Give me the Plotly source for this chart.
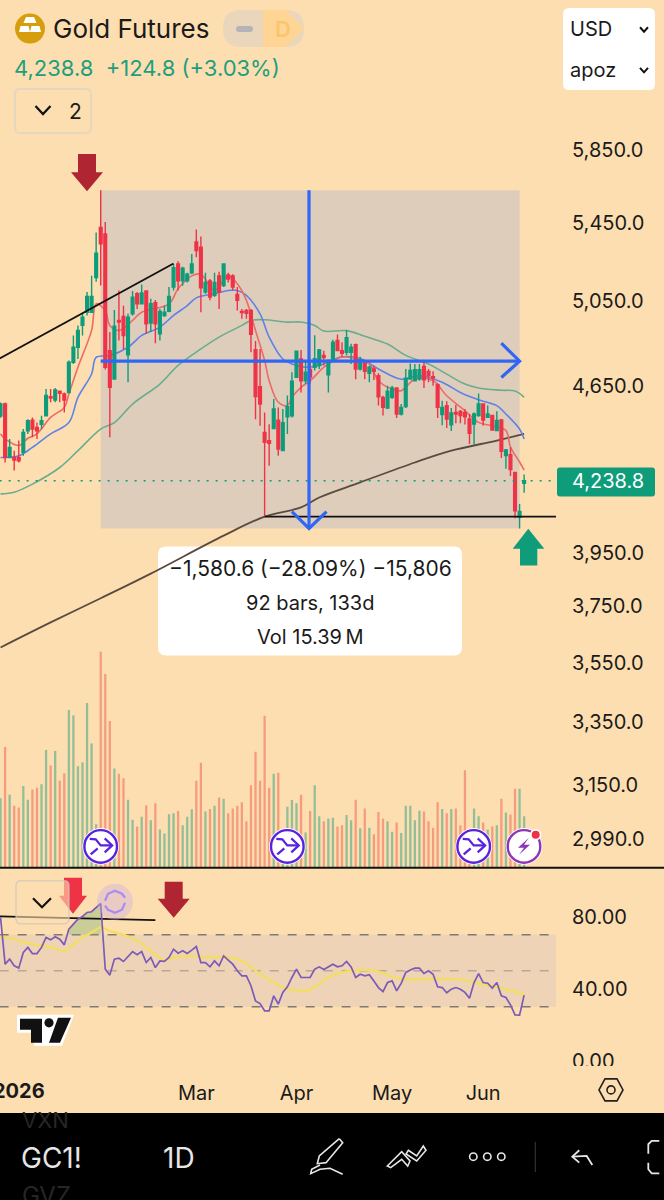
import plotly.graph_objects as go

W, H = 664, 1200
BG = "#FDDEB0"
GREEN = "#0E9C7A"
RED = "#EF3347"
BLUE = "#2F66F6"
DARK_RED = "#AF2531"
FONT = "Inter"

# bar numbers, 0 is the Feb top, 92 the low of the measure
bars = list(range(-22, 94))

opens = [4515, 4568, 4336, 4336, 4336, 4358, 4450, 4497, 4465, 4479, 4516, 4601, 4586, 4625, 4613, 4620,
         4758, 4828, 4932, 4996, 4996, 5168,
         5426, 5392, 4812, 4681, 4956, 4975, 4793, 4988, 5087, 5037, 5100, 4943, 5042, 4892, 4980, 5000,
         5120, 5236, 5151, 5151, 5192, 5350, 5323, 5095, 5151, 5079, 5176, 5127, 5181, 5176, 5083, 5000,
         5004, 5004, 4817, 4646, 4443, 4408, 4460, 4497, 4365, 4512, 4516, 4689, 4773, 4673, 4725,
         4735, 4743, 4790, 4700, 4767, 4860, 4812, 4804, 4804, 4840, 4727, 4754, 4707, 4727, 4696, 4598,
         4550, 4598, 4640, 4524, 4557, 4681, 4673, 4681, 4738, 4716, 4691, 4655, 4521, 4561, 4477, 4531,
         4535, 4531, 4502, 4480, 4517, 4568, 4509, 4517, 4451, 4498, 4344, 4348, 4273, 4090, 4228]
highs = [4575, 4575, 4415, 4365, 4408, 4458, 4501, 4508, 4486, 4516, 4636, 4636, 4640, 4628, 4620, 4766,
         4884, 4932, 4988, 5095, 5177, 5400,
         5627, 5455, 4900, 5007, 5103, 5028, 4988, 5100, 5095, 5133, 5103, 5062, 5056, 5012, 5028, 5120,
         5236, 5250, 5222, 5192, 5288, 5416, 5378, 5192, 5160, 5192, 5197, 5239, 5192, 5184, 5120, 5012,
         5012, 5012, 4857, 4820, 4531, 4479, 4591, 4553, 4546, 4606, 4712, 4813, 4815, 4766, 4760,
         4885, 4820, 4812, 4770, 4863, 4888, 4852, 4910, 4844, 4846, 4783, 4767, 4743, 4743, 4707, 4605,
         4650, 4650, 4643, 4568, 4727, 4752, 4750, 4750, 4770, 4727, 4716, 4661, 4583, 4580, 4550, 4565,
         4542, 4546, 4524, 4531, 4615, 4571, 4561, 4521, 4536, 4502, 4372, 4380, 4276, 4144, 4265]
lows = [4507, 4315, 4336, 4281, 4315, 4343, 4436, 4422, 4415, 4458, 4516, 4576, 4576, 4576, 4531, 4620,
        4750, 4773, 4884, 4980, 4996, 5147,
        5128, 4725, 4423, 4681, 4860, 4820, 4666, 4980, 5012, 5034, 4892, 4900, 4847, 4860, 4972, 4996,
        5103, 5103, 5127, 5143, 5184, 5271, 4996, 5087, 5054, 5070, 5012, 5120, 5143, 5103, 5004, 4964,
        4964, 4805, 4501, 4472, 4093, 4301, 4458, 4343, 4365, 4436, 4508, 4686, 4620, 4658, 4660,
        4720, 4727, 4743, 4620, 4760, 4809, 4783, 4790, 4750, 4680, 4720, 4680, 4666, 4676, 4561, 4517,
        4546, 4590, 4506, 4517, 4550, 4677, 4670, 4673, 4640, 4666, 4650, 4506, 4475, 4462, 4450, 4483,
        4483, 4478, 4393, 4390, 4512, 4472, 4506, 4451, 4448, 4334, 4289, 4258, 4087, 4046, 4190]
closes = [4568, 4336, 4379, 4325, 4322, 4443, 4494, 4458, 4450, 4494, 4606, 4595, 4631, 4616, 4586, 4758,
          4828, 4908, 4972, 5073, 5073, 5292,
          5340, 4735, 4643, 4928, 4948, 4884, 4972, 5070, 5037, 5090, 4940, 5037, 4940, 5000, 4996, 5073,
          5218, 5151, 5215, 5184, 5236, 5306, 5116, 5143, 5070, 5143, 5095, 5236, 5160, 5120, 5054, 4994,
          4990, 4889, 4601, 4568, 4401, 4396, 4546, 4372, 4486, 4556, 4671, 4810, 4673, 4712, 4690,
          4775, 4815, 4780, 4767, 4852, 4812, 4800, 4873, 4828, 4727, 4767, 4716, 4735, 4716, 4600, 4553,
          4625, 4640, 4524, 4553, 4685, 4720, 4723, 4723, 4677, 4696, 4685, 4553, 4553, 4502, 4528, 4524,
          4517, 4512, 4440, 4524, 4568, 4497, 4524, 4454, 4495, 4362, 4368, 4285, 4116, 4114, 4238.8]

# volume in thousands
volume = [158, 275, 166, 141, 137, 186, 155, 178, 182, 190, 268, 233, 266, 198, 215, 359, 347, 231, 240, 375,
          283, 99, 492, 441, 334, 226, 214, 204, 155, 109, 94, 116, 142, 108, 147, 87, 78, 122, 124, 129, 97,
          116, 133, 198, 239, 128, 134, 141, 160, 157, 124, 135, 141, 149, 106, 188, 264, 198, 346, 182, 214,
          216, 76, 139, 154, 147, 166, 80, 129, 188, 117, 106, 112, 114, 94, 97, 120, 108, 155, 90, 135, 91,
          76, 127, 112, 106, 82, 103, 79, 141, 141, 108, 130, 128, 106, 91, 149, 134, 124, 134, 135, 97, 222,
          76, 135, 117, 103, 87, 94, 97, 157, 126, 121, 180, 180, 117]

red_ma_x = [-22, -21, -18, -16, -14, -11, -8, -7, -5, -2, -1, 1, 2, 4, 7, 9, 15, 17, 20, 22, 25, 28, 30, 32, 34,
            36, 37, 39, 41, 42, 44, 46, 49, 50, 53, 56, 59, 61, 64, 66, 69, 73, 76, 80, 83, 86, 89, 90, 92, 93]
red_ma = [4437, 4415, 4387, 4418, 4437, 4509, 4553, 4613, 4735, 4908, 5037, 5004, 4932, 4908, 4956, 4996, 5037,
          5111, 5176, 5184, 5103, 5176, 5136, 5054, 4908, 4766, 4673, 4576, 4561, 4598, 4643, 4673, 4735, 4749,
          4783, 4775, 4750, 4673, 4635, 4628, 4680, 4673, 4605, 4539, 4487, 4472, 4451, 4380, 4317, 4283]
blue_ma_x = [-22, -18, -15, -11, -7, -5, -2, -1, 2, 6, 9, 13, 16, 19, 21, 25, 28, 30, 32, 35, 37, 40, 42, 45, 48,
             53, 57, 61, 66, 70, 75, 79, 83, 87, 89, 92, 93]
blue_ma = [4336, 4343, 4379, 4437, 4486, 4598, 4704, 4781, 4789, 4828, 4884, 4924, 4980, 5028, 5066, 5087, 5103,
           5103, 5079, 4988, 4876, 4773, 4750, 4735, 4743, 4783, 4775, 4727, 4680, 4696, 4666, 4620, 4587, 4561,
           4524, 4458, 4415]
green_ma_x = [-22, -19, -15, -9, -5, 0, 3, 7, 13, 17, 22, 26, 31, 33, 36, 41, 44, 47, 49, 54, 58, 63, 67, 72, 76,
              80, 83, 88, 91, 93]
green_ma = [4185, 4192, 4225, 4294, 4365, 4458, 4486, 4568, 4658, 4743, 4820, 4876, 4932, 4956, 4959, 4948, 4948,
            4932, 4905, 4907, 4880, 4843, 4790, 4750, 4703, 4658, 4640, 4630, 4626, 4598]
brown_ma_x = [-22, -11, 0, 11, 27, 36, 44, 48, 57, 69, 77, 87, 93]
brown_ma = [3603, 3692, 3780, 3872, 4018, 4093, 4130, 4170, 4232, 4315, 4365, 4408, 4437]

# RSI, one value per bar
rsi = [79.6, 53.7, 56.5, 52.8, 51.5, 60.2, 63.0, 59.6, 59.6, 63.0, 68.5, 67.2, 68.9, 67.6, 64.4, 73.1, 75.9, 78.7,
       80.2, 82.4, 82.8, 85.2, 87.4, 50.9, 47.6, 56.5, 57.0, 55.2, 58.0, 60.7, 58.9, 60.7, 54.6, 57.4, 51.8, 55.5,
       55.2, 57.4, 62.0, 59.8, 61.1, 59.6, 61.5, 63.5, 54.6, 54.6, 52.2, 55.5, 52.8, 58.3, 55.9, 53.7, 50.0, 47.2,
       47.2, 41.7, 33.3, 31.8, 27.8, 27.8, 36.1, 31.5, 38.0, 41.1, 46.3, 50.9, 46.3, 46.3, 46.3, 50.9, 52.2, 50.7,
       52.2, 53.7, 52.2, 52.8, 55.2, 52.2, 46.3, 48.1, 47.2, 47.8, 44.4, 40.7, 38.5, 43.5, 44.4, 38.9, 43.0, 49.1,
       50.4, 51.5, 51.5, 48.5, 50.0, 48.1, 41.1, 40.7, 37.8, 39.8, 40.7, 39.8, 38.0, 34.8, 43.5, 48.5, 43.5, 43.1,
       40.4, 43.5, 36.1, 35.2, 31.1, 25.5, 25.4, 36.5]
rsi_ma_x = [-22, -19, -15, -11, -8, -5, -2, 0, 2, 5, 8, 11, 14, 16, 20, 23, 27, 31, 34, 38, 41, 45, 47, 50, 53, 56,
            59, 61, 65, 67, 72, 76, 80, 83, 87, 91, 93]
rsi_ma = [68.9, 67.6, 64.8, 63.3, 61.1, 66.7, 71.3, 74.1, 72.2, 70.0, 66.7, 61.1, 55.9, 57.4, 58.3, 57.4, 57.8,
          55.5, 50.0, 43.5, 39.8, 38.9, 41.0, 46.3, 49.1, 50.4, 50.4, 49.6, 45.9, 45.4, 45.4, 45.5, 44.8, 43.1,
          41.1, 38.5, 37.0]

price_ticks = [5850, 5450, 5050, 4650, 3950, 3750, 3550, 3350, 3150, 2990]
price_labels = ["5,850.0", "5,450.0", "5,050.0", "4,650.0", "3,950.0", "3,750.0", "3,550.0", "3,350.0",
                "3,150.0", "2,990.0"]
rsi_ticks = [80, 40, 0]
rsi_labels = ["80.00", "40.00", "0.00"]
time_ticks = [21, 43, 64, 84]
time_labels = ["Mar", "Apr", "May", "Jun"]

last_price = 4238.8
peak_price = 5627
low_price = 4046
support = 4093
measure_price = 4763


def fx(x):
    return x / W


def fy(y):
    return 1 - y / H


def poly(points, close=True):
    d = "M" + " L".join(f"{fx(x):.5f},{fy(y):.5f}" for x, y in points)
    return d + (" Z" if close else "")


def shape(points, fill=None, line=None, width=0, close=True, layer="above"):
    return dict(type="path", xref="paper", yref="paper", path=poly(points, close), layer=layer,
                fillcolor=fill if fill else "rgba(0,0,0,0)",
                line=dict(color=line if line else "rgba(0,0,0,0)", width=width))


def rect(x0, y0, x1, y1, r=0, fill=None, line=None, width=0, layer="above"):
    # rounded box, corners in pixels of the page
    if r == 0:
        d = poly([(x0, y0), (x1, y0), (x1, y1), (x0, y1)])
    else:
        p = lambda x, y: f"{fx(x):.5f},{fy(y):.5f}"
        d = (f"M{p(x0 + r, y0)} L{p(x1 - r, y0)} Q{p(x1, y0)} {p(x1, y0 + r)} L{p(x1, y1 - r)} "
             f"Q{p(x1, y1)} {p(x1 - r, y1)} L{p(x0 + r, y1)} Q{p(x0, y1)} {p(x0, y1 - r)} "
             f"L{p(x0, y0 + r)} Q{p(x0, y0)} {p(x0 + r, y0)} Z")
    return dict(type="path", xref="paper", yref="paper", path=d, layer=layer,
                fillcolor=fill if fill else "rgba(0,0,0,0)",
                line=dict(color=line if line else "rgba(0,0,0,0)", width=width))


def circle(cx, cy, r, fill=None, line=None, width=0):
    return dict(type="circle", xref="paper", yref="paper", x0=fx(cx - r), x1=fx(cx + r), y0=fy(cy + r), y1=fy(cy - r),
                fillcolor=fill if fill else "rgba(0,0,0,0)",
                line=dict(color=line if line else "rgba(0,0,0,0)", width=width))


def label(text, x, y, size=20, color="#1A1A1A", anchor="left", weight=None):
    return dict(text=text, x=fx(x), y=fy(y), xref="paper", yref="paper", showarrow=False, xanchor=anchor,
                yanchor="middle", font=dict(family=FONT, size=size, color=color, weight=weight),
                borderpad=0, borderwidth=0)


def arrow_down(cx, top, shaft_w, head_w, neck, tip, color):
    return shape([(cx - shaft_w / 2, top), (cx + shaft_w / 2, top), (cx + shaft_w / 2, neck), (cx + head_w / 2, neck),
                  (cx, tip), (cx - head_w / 2, neck), (cx - shaft_w / 2, neck)], fill=color)


def chevron(cx, cy, w, h, color, width=2.2):
    return shape([(cx - w / 2, cy - h / 2), (cx, cy + h / 2), (cx + w / 2, cy - h / 2)], line=color, width=width, close=False)


def merge_icon(cx, cy):
    c = "#5A22E0"
    return [circle(cx, cy, 18.3, fill="#FFFFFF"),
            circle(cx, cy, 16.3, line=c, width=2.4),
            shape([(cx - 11, cy - 7.5), (cx - 5, cy - 7), (cx + 0, cy - 1), (cx + 11, cy - 1)], line=c, width=2.2, close=False),
            shape([(cx + 4, cy - 8), (cx + 11.5, cy - 1), (cx + 4, cy + 6)], line=c, width=2.2, close=False),
            shape([(cx - 10, cy + 8), (cx - 3, cy + 2)], line=c, width=2.2, close=False)]


fig = go.Figure()

# measured area and moving averages sit under the candles
fig.add_trace(go.Scatter(x=[0, 92, 92, 0], y=[peak_price, peak_price, low_price, low_price], fill="toself",
                         fillcolor="#DFCDBB", mode="none", yaxis="y"))
ma_width = 1.6
fig.add_trace(go.Scatter(x=brown_ma_x, y=brown_ma, mode="lines", line=dict(color="#5A4A40", width=1.8, shape="spline"), yaxis="y"))
fig.add_trace(go.Scatter(x=green_ma_x, y=green_ma, mode="lines", line=dict(color="#69AD8F", width=ma_width, shape="spline"), yaxis="y"))
fig.add_trace(go.Scatter(x=blue_ma_x, y=blue_ma, mode="lines", line=dict(color="#5F82E8", width=ma_width, shape="spline"), yaxis="y"))
fig.add_trace(go.Scatter(x=red_ma_x, y=red_ma, mode="lines", line=dict(color="#EC6A68", width=ma_width, shape="spline"), yaxis="y"))

fig.add_trace(go.Candlestick(x=bars, open=opens, high=highs, low=lows, close=closes, yaxis="y2", whiskerwidth=0,
                             increasing=dict(line=dict(color=GREEN, width=1.4), fillcolor=GREEN),
                             decreasing=dict(line=dict(color=RED, width=1.4), fillcolor=RED)))

# drawings on top of the candles
fig.add_trace(go.Scatter(x=[-22.2, 100], y=[last_price, last_price], mode="lines", yaxis="y3",
                         line=dict(color=GREEN, width=1.6, dash="2px,7px")))
fig.add_trace(go.Scatter(x=[-22.2, 16], y=[4775, 5239], mode="lines", line=dict(color="#111111", width=1.8), yaxis="y3"))
fig.add_trace(go.Scatter(x=[36, 100], y=[support, support], mode="lines", line=dict(color="#111111", width=1.8), yaxis="y3"))
fig.add_trace(go.Scatter(x=[0, 92], y=[measure_price, measure_price], mode="lines", line=dict(color=BLUE, width=3.2), yaxis="y3"))
fig.add_trace(go.Scatter(x=[88, 92, 88], y=[4847, measure_price, 4688], mode="lines", line=dict(color=BLUE, width=3.2), yaxis="y3"))
fig.add_trace(go.Scatter(x=[45.75, 45.75], y=[peak_price, low_price], mode="lines", line=dict(color=BLUE, width=3.2), yaxis="y3"))
fig.add_trace(go.Scatter(x=[42, 45.75, 49.6], y=[4113, low_price, 4113], mode="lines", line=dict(color=BLUE, width=3.2), yaxis="y3"))

vol_colors = ["#93BE98" if c >= o else "#F59B7E" for o, c in zip(opens, closes)]
fig.add_trace(go.Bar(x=bars, y=volume, marker=dict(color=vol_colors, line=dict(width=0)), width=0.5, yaxis="y4"))

# RSI pane
fig.add_trace(go.Scatter(x=[-22.2, 100, 100, -22.2], y=[70, 70, 30, 30], fill="toself", fillcolor="#EED3B6", mode="none", yaxis="y5"))
for lvl, col in [(70, "#7F7A73"), (50, "#B9A899"), (30, "#7F7A73")]:
    fig.add_trace(go.Scatter(x=[-22.2, 99], y=[lvl, lvl], mode="lines", yaxis="y5", line=dict(color=col, width=1.6, dash="9px,9px")))
fig.add_trace(go.Scatter(x=bars[15:23] + [0, -7], y=rsi[15:23] + [70, 70], fill="toself", fillcolor="rgba(125,180,115,0.4)",
                         mode="none", yaxis="y5"))
fig.add_trace(go.Scatter(x=[-22.2, 12], y=[80.2, 78.2], mode="lines", line=dict(color="#111111", width=1.8), yaxis="y5"))
fig.add_trace(go.Scatter(x=rsi_ma_x, y=rsi_ma, mode="lines", line=dict(color="#F2DE62", width=2.4, shape="spline"), yaxis="y5"))
fig.add_trace(go.Scatter(x=bars, y=rsi, mode="lines", line=dict(color="#7C5BB8", width=1.7), yaxis="y5"))

shapes = [
    rect(158, 546, 462, 655, r=8, fill="#FFFFFF", layer="below"),
    # separator and toolbar
    shape([(0, 867), (664, 867)], line="#111111", width=2, close=False),
    rect(0, 1112, 664, 1200, fill="#000000"),
    # hides the foot of the clipped 0.00 label
    rect(565, 1065, 650, 1076, fill=BG),
    # price label
    rect(557, 467, 655, 496, r=3, fill=GREEN),
    # arrows
    arrow_down(87, 154, 18, 32, 172, 191, DARK_RED),
    shape([(528.3, 528.3), (544.3, 548.3), (537.3, 548.3), (537.3, 565), (520, 565), (520, 548.3), (512.7, 548.3)], fill=GREEN),
    arrow_down(73, 877, 18, 28, 895, 913, RED),
    arrow_down(173.7, 881, 18, 32, 898, 917, DARK_RED),
    # header
    circle(30, 28.5, 15, fill="#D69E0D"),
    shape([(26, 17), (34, 17), (36.5, 23), (23.5, 23)], fill="#FFFFFF"),
    shape([(20.5, 26), (28.5, 26), (30, 32), (19, 32)], fill="#FFFFFF"),
    shape([(31.5, 26), (39.5, 26), (41, 32), (30, 32)], fill="#FFFFFF"),
    rect(223, 10, 304, 47, r=18, fill="#EAD7BB"),
    shape([(263, 10), (286, 10), (304, 28.5), (286, 47), (263, 47)], fill="#FFD595"),
    rect(236, 26, 253, 32, r=3, fill="#B5B3B8"),
    rect(15, 89, 91, 133, r=5, line="#E7D6BE", width=2),
    chevron(43, 110, 15, 8, "#111111"),
    # currency box
    rect(563, 8, 655, 90, r=6, fill="#FFFFFF"),
    chevron(644, 29.5, 8, 4.5, "#111111", 2),
    chevron(644, 70, 8, 4.5, "#111111", 2),
    # RSI overlays
    rect(16, 880, 69, 923, r=5, fill="rgba(253,222,176,0.6)", line="rgba(205,200,190,0.7)", width=1.5),
    chevron(42, 902, 18, 9, "#111111"),
    circle(115, 901, 18, fill="rgba(205,175,225,0.4)"),
    shape([(105, 900), (108, 893), (115, 890), (122, 893), (125, 897)], line="#A98CF5", width=2.2, close=False),
    shape([(125, 902), (122, 909), (115, 912), (108, 909), (105, 905)], line="#A98CF5", width=2.2, close=False),
    # TV logo
    shape([(17, 1014), (74, 1014), (62, 1045), (46, 1045), (34, 1045), (34, 1032), (17, 1032)], fill="#FFFFFF"),
    shape([(20, 1018), (42, 1018), (42, 1042), (31, 1042), (31, 1029), (20, 1029)], fill="#111111"),
    shape([(58, 1017), (71, 1017), (60, 1042), (49, 1042)], fill="#111111"),
    circle(49, 1022, 4.6, fill="#111111"),
    # settings
    shape([(599, 1089), (605, 1078), (617, 1078), (623, 1089), (617, 1100), (605, 1100)], line="#222222", width=1.6),
    circle(611, 1089, 4, line="#222222", width=1.6),
    # toolbar icons
    shape([(339.3, 1137.7), (342.7, 1141.7), (326, 1161.7), (317.3, 1162.7), (319.3, 1155), (339.3, 1137.7)], line="#E6E6E6", width=1.6, close=False),
    shape([(320, 1164), (311.7, 1168.3), (310.7, 1172.7), (320, 1168.3), (330, 1167.3), (342.7, 1173.3)], line="#E6E6E6", width=1.6, close=False),
    shape([(387.3, 1165), (401.7, 1150.7), (410, 1160), (407.7, 1165), (401.7, 1158.3), (390.7, 1166.7)], line="#E6E6E6", width=1.6),
    shape([(408.3, 1149.3), (416.7, 1155), (423.3, 1145), (426, 1149.3), (416.7, 1160), (406, 1153)], line="#E6E6E6", width=1.6),
    circle(473.3, 1155.7, 3.7, line="#E6E6E6", width=1.6),
    circle(487.3, 1155.7, 3.7, line="#E6E6E6", width=1.6),
    circle(501.3, 1155.7, 3.7, line="#E6E6E6", width=1.6),
    shape([(535.3, 1141), (535.3, 1171)], line="#3A3A3A", width=1, close=False),
    shape([(579.3, 1149.3), (572.3, 1155.7), (579.3, 1161.7)], line="#E6E6E6", width=1.8, close=False),
    shape([(572.3, 1155.7), (586.7, 1155), (592.3, 1164)], line="#E6E6E6", width=1.8, close=False),
    shape([(659.3, 1140), (651.7, 1140), (648.3, 1143.3), (648.3, 1152.7)], line="#E6E6E6", width=1.8, close=False),
    shape([(648.3, 1161.7), (648.3, 1168.3), (651.7, 1172.3), (659.3, 1172.3)], line="#E6E6E6", width=1.8, close=False),
]
shapes += merge_icon(100.7, 845.7) + merge_icon(287.3, 845.7) + merge_icon(473.7, 845.7)
shapes += [
    circle(524, 845.7, 18.3, fill="#FFFFFF"),
    circle(524, 845.7, 16.3, line="#8E35B5", width=2.4),
    shape([(529, 837), (518, 847), (524, 847), (519, 854), (530, 844), (524, 844)], fill="#8E35B5"),
    circle(535.7, 834, 5.8, fill="#FFFFFF"),
    circle(535.7, 834, 4, fill=RED),
]

annotations = [
    label("Gold Futures", 53, 28, size=26),
    label("D", 283, 29, size=22, color="#FBC56E", anchor="center", weight=600),
    label("4,238.8  +124.8 (+3.03%)", 14, 68, size=22, color="#1F9E7E"),
    label("2", 75, 111, size=21, anchor="center"),
    label("USD", 570, 29, size=20),
    label("apoz", 570, 70, size=20),
    label("4,238.8", 572, 481, size=20, color="#FFFFFF"),
    label("\u22121,580.6 (\u221228.09%) \u221215,806", 310, 568, size=21, anchor="center"),
    label("92 bars, 133d", 310, 602, size=20, anchor="center"),
    label("Vol 15.39\u2009M", 310, 636, size=20, anchor="center"),
    label("<b>2026</b>", -7, 1090, size=20),
    label("GC1!", 21, 1157, size=28, color="#E6E6E6"),
    label("1D", 163, 1157, size=28, color="#E6E6E6"),
    label("VXN", 22, 1119, size=22, color="#262626"),
    label("GVZ", 22, 1195, size=24, color="#262626"),
]

price_range = [3.4634, 3.8308]
price_domain = [fy(867), 1]
rsi_domain = [fy(1065), fy(868)]
tick_font = dict(family=FONT, size=20, color="#1A1A1A")
hidden = dict(visible=False, showgrid=False, zeroline=False)

fig.update_layout(
    width=W, height=H + 8, margin=dict(l=0, r=0, t=0, b=0), paper_bgcolor=BG, plot_bgcolor="rgba(0,0,0,0)",
    showlegend=False, shapes=shapes, annotations=annotations, font=dict(family=FONT), boxgap=0.15,
    xaxis=dict(range=[-22.12, 123.72], showgrid=False, zeroline=False, rangeslider=dict(visible=False), ticks="",
               tickvals=time_ticks, ticktext=time_labels, tickfont=tick_font, anchor="free", position=fy(1078),
               showline=False, domain=[0, 1]),
    yaxis=dict(type="log", range=price_range, domain=price_domain, tickvals=price_ticks, ticktext=price_labels,
               tickfont=tick_font, side="right", anchor="free", position=fx(571), showgrid=False, zeroline=False,
               showline=False, ticks=""),
    yaxis2=dict(type="log", range=price_range, domain=price_domain, overlaying="y", **hidden),
    yaxis3=dict(type="log", range=price_range, domain=price_domain, overlaying="y", **hidden),
    yaxis4=dict(range=[0, 1976], domain=price_domain, overlaying="y", **hidden),
    yaxis5=dict(range=[-2.8, 106.7], domain=rsi_domain, tickvals=rsi_ticks, ticktext=rsi_labels, tickfont=tick_font,
                side="right", anchor="free", position=fx(571), showgrid=False, zeroline=False, showline=False, ticks=""),
)

# page margin off so the figure sits at the corner of the window
page_fix = ("document.documentElement.style.cssText='margin:0;height:1200px;overflow:hidden';"
            "document.body.style.cssText='margin:0;height:1200px;overflow:hidden';")
fig.write_html("out.html", post_script=page_fix, config=dict(displayModeBar=False))
